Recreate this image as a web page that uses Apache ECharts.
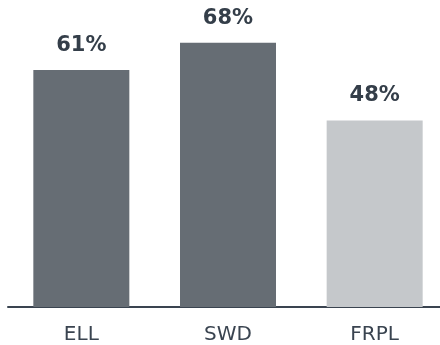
<!DOCTYPE html>
<html>
<head>
<meta charset="utf-8">
<style>
  html, body { margin: 0; padding: 0; background: #fff; overflow: hidden; }
  #chart { width: 440px; height: 345px; }
</style>
<script src="https://cdn.jsdelivr.net/npm/echarts@6/dist/echarts.min.js"></script>
</head>
<body>
<div id="chart"></div>
<script>
// Share of each group (percent)
const categories = ['ELL', 'SWD', 'FRPL'];
const values = [61, 68, 48];
const barColors = ['#666d74', '#666d74', '#c5c8cb'];

const chart = echarts.init(document.getElementById('chart'), null, { renderer: 'canvas' });

chart.setOption({
  animation: false,
  grid: {
    left: 8, width: 440, top: 0, bottom: 38,
    containLabel: false,
    outerBoundsMode: 'none'
  },
  xAxis: {
    type: 'category',
    data: categories,
    axisLine: { lineStyle: { color: '#3a4450', width: 2 } },
    axisTick: { show: false },
    axisLabel: {
      color: '#3a4450',
      fontFamily: 'DejaVu Sans',
      fontSize: 20,
      margin: 18
    }
  },
  yAxis: {
    type: 'value',
    min: 0,
    max: 79,
    show: false,
    splitLine: { show: false }
  },
  series: [{
    type: 'bar',
    barWidth: 96,
    data: values.map((v, i) => ({ value: v, itemStyle: { color: barColors[i] } })),
    label: {
      show: true,
      position: 'top',
      distance: 14,
      formatter: p => p.value + '%',
      color: '#343e49',
      fontFamily: 'DejaVu Sans',
      fontWeight: 'bold',
      fontSize: 21
    }
  }]
});
</script>
</body>
</html>
